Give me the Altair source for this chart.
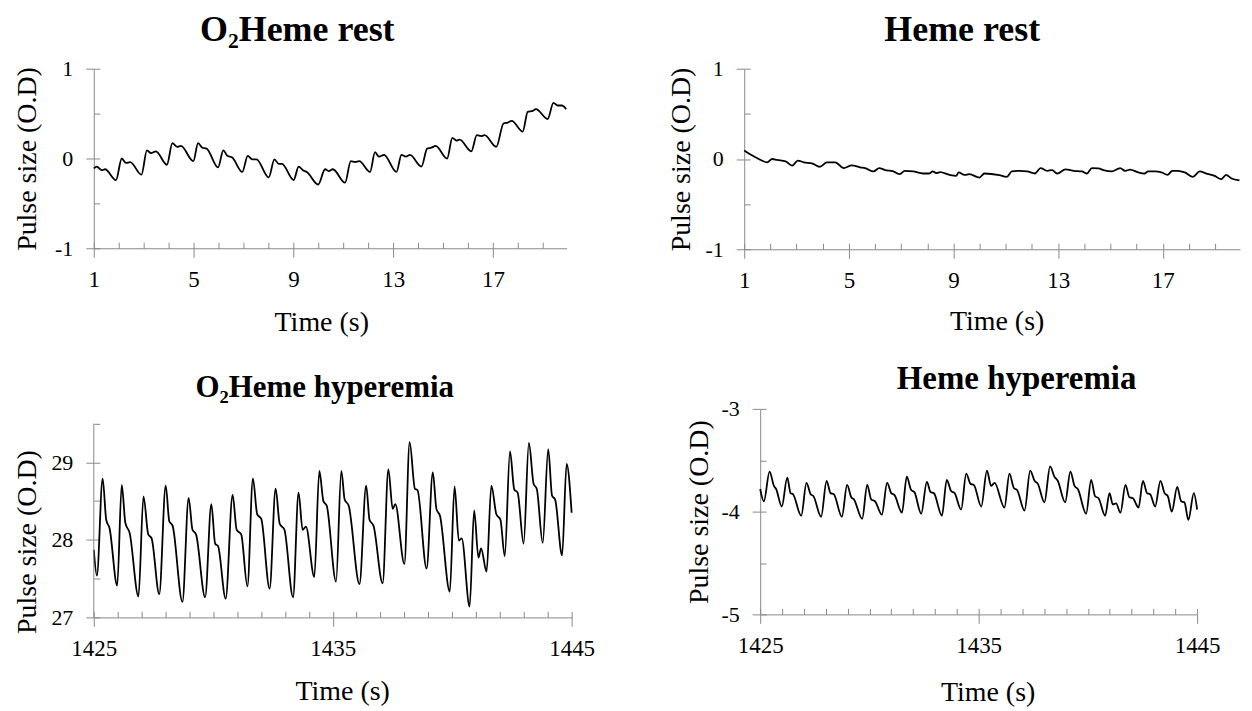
import altair as alt
import pandas as pd

FONT = "Liberation Serif"
GRAY = "#8a8a8a"

# ---------------- data ----------------
P1_T = [1.0, 1.12, 1.32, 1.45, 1.89, 2.12, 2.29, 2.46, 2.91, 3.13, 3.29, 3.49, 3.93, 4.15, 4.35, 4.49,
        4.99, 5.18, 5.35, 5.52, 5.98, 6.19, 6.35, 6.55, 6.95, 7.17, 7.35, 7.52, 8.01, 8.24, 8.41, 8.54,
        9.01, 9.21, 9.38, 9.54, 9.99, 10.27, 10.41, 10.58, 11.07, 11.30, 11.47, 11.64, 12.07, 12.27,
        12.43, 12.63, 13.13, 13.33, 13.51, 13.67, 14.13, 14.36, 14.53, 14.70, 15.16, 15.37, 15.53,
        15.66, 16.13, 16.35, 16.53, 16.66, 17.13, 17.42, 17.59, 17.75, 18.19, 18.39, 18.59, 18.72,
        19.19, 19.42, 19.59, 19.76, 19.93]
P1_V = [-0.11, -0.09, -0.13, -0.12, -0.24, 0.00, -0.05, -0.04, -0.18, 0.09, 0.06, 0.08, -0.07, 0.17,
        0.13, 0.14, -0.03, 0.17, 0.12, 0.11, -0.10, 0.09, 0.03, 0.01, -0.15, 0.03, -0.01, -0.01, -0.21,
        -0.01, -0.06, -0.06, -0.24, -0.09, -0.13, -0.15, -0.29, -0.12, -0.14, -0.12, -0.27, -0.03,
        -0.04, -0.03, -0.15, 0.07, 0.02, 0.04, -0.15, 0.04, 0.02, 0.04, -0.09, 0.11, 0.12, 0.14, 0.00,
        0.23, 0.20, 0.21, 0.08, 0.26, 0.25, 0.26, 0.13, 0.39, 0.40, 0.42, 0.30, 0.52, 0.53, 0.55, 0.44,
        0.62, 0.59, 0.59, 0.55]

P2_T = [1.00, 1.10, 1.38, 1.63, 1.88, 2.07, 2.26, 2.58, 2.83, 3.05, 3.28, 3.59, 3.89, 4.16, 4.48, 4.80,
        5.11, 5.43, 5.62, 5.94, 6.16, 6.38, 6.70, 6.95, 7.14, 7.46, 7.84, 8.06, 8.21, 8.34, 8.49, 8.85,
        9.10, 9.20, 9.42, 9.61, 9.99, 10.18, 10.75, 11.03, 11.23, 11.51, 11.82, 12.11, 12.33, 12.58,
        12.77, 12.96, 13.28, 13.60, 13.91, 14.10, 14.29, 14.54, 14.73, 15.05, 15.37, 15.56, 15.75,
        16.06, 16.29, 16.44, 16.70, 16.95, 17.18, 17.36, 17.58, 17.84, 18.15, 18.41, 18.66, 18.98,
        19.23, 19.42, 19.61, 19.93]
P2_V = [0.094, 0.075, 0.027, -0.011, -0.037, 0.000, -0.011, -0.026, -0.074, -0.018, -0.037, -0.048,
        -0.086, -0.037, -0.037, -0.101, -0.071, -0.093, -0.101, -0.138, -0.101, -0.123, -0.138, -0.168,
        -0.131, -0.138, -0.161, -0.161, -0.138, -0.157, -0.146, -0.176, -0.187, -0.149, -0.176, -0.168,
        -0.206, -0.161, -0.179, -0.198, -0.138, -0.131, -0.138, -0.161, -0.101, -0.131, -0.123, -0.161,
        -0.116, -0.131, -0.138, -0.161, -0.101, -0.104, -0.123, -0.138, -0.101, -0.131, -0.119, -0.149,
        -0.161, -0.138, -0.138, -0.149, -0.176, -0.131, -0.131, -0.149, -0.198, -0.138, -0.161, -0.187,
        -0.224, -0.176, -0.213, -0.236]

P3_T = [1425.00, 1425.13, 1425.37, 1425.52, 1425.66, 1425.98, 1426.17, 1426.32, 1426.50, 1426.87,
        1427.08, 1427.28, 1427.42, 1427.74, 1428.01, 1428.16, 1428.30, 1428.71, 1428.97, 1429.13,
        1429.28, 1429.66, 1429.92, 1430.08, 1430.20, 1430.52, 1430.81, 1430.98, 1431.17, 1431.43,
        1431.66, 1431.84, 1432.01, 1432.36, 1432.61, 1432.78, 1432.98, 1433.34, 1433.57, 1433.74,
        1433.88, 1434.23, 1434.44, 1434.61, 1434.75, 1435.14,
        1435.36, 1435.50, 1435.67, 1436.12, 1436.40, 1436.54, 1436.71, 1437.09, 1437.33, 1437.51,
        1437.62, 1438.00, 1438.22, 1438.44, 1438.55, 1438.93, 1439.19, 1439.34, 1439.49, 1439.90,
        1440.10, 1440.28, 1440.40, 1440.73, 1440.92, 1441.10, 1441.21, 1441.44, 1441.64, 1441.85,
        1442.02, 1442.20, 1442.42, 1442.60, 1442.74, 1442.99, 1443.21, 1443.41, 1443.54, 1443.79,
        1444.02, 1444.18, 1444.31, 1444.60, 1444.79, 1445.00]
P3_V = [27.87, 27.54, 28.79, 28.26, 28.15, 27.41, 28.71, 28.22, 28.09, 27.27, 28.56, 28.07, 28.02,
        27.30, 28.70, 28.24, 28.18, 27.20, 28.54, 28.13, 28.07, 27.26, 28.46, 27.95, 27.92, 27.24,
        28.58, 28.13, 28.07, 27.40, 28.79, 28.33, 28.27, 27.37, 28.66, 28.21, 28.13, 27.26, 28.61,
        28.13, 28.17, 27.52, 28.89, 28.50, 28.44, 27.46,
        28.89, 28.52, 28.44, 27.43, 28.70, 28.26, 28.18, 27.44, 28.91, 28.40, 28.46, 27.69, 29.26,
        28.66, 28.64, 27.63, 28.87, 28.40, 28.31, 27.33, 28.69, 27.99, 28.02, 27.14, 28.38, 27.77,
        27.89, 27.59, 28.70, 28.33, 28.26, 27.79, 29.14, 28.65, 28.61, 27.95, 29.25, 28.72, 28.66,
        27.96, 29.17, 28.57, 28.52, 27.80, 28.98, 28.35]

P4_T = [1425.00, 1425.17, 1425.43, 1425.63, 1425.73, 1425.99, 1426.24, 1426.39, 1426.50, 1426.88,
        1427.12, 1427.31, 1427.44, 1427.79, 1428.04, 1428.22, 1428.37, 1428.74, 1428.98, 1429.17,
        1429.29, 1429.67, 1429.90, 1430.08, 1430.26, 1430.57, 1430.81, 1431.00, 1431.15, 1431.49,
        1431.71, 1431.91, 1432.06, 1432.37, 1432.63, 1432.80, 1432.95, 1433.32, 1433.54, 1433.74,
        1433.90, 1434.20, 1434.43, 1434.63, 1434.78, 1435.12, 1435.38, 1435.57, 1435.73, 1436.18,
        1436.41, 1436.61, 1436.76, 1437.10, 1437.36, 1437.56, 1437.71, 1438.01, 1438.27, 1438.47,
        1438.62, 1438.96, 1439.20, 1439.39, 1439.54, 1439.92, 1440.15, 1440.33, 1440.49, 1440.79,
        1440.99, 1441.14, 1441.29, 1441.49, 1441.72, 1441.90, 1442.06, 1442.32, 1442.52, 1442.71,
        1442.85, 1443.08, 1443.32, 1443.51, 1443.66, 1443.84, 1444.09, 1444.27, 1444.42, 1444.60,
        1444.85, 1445.00]
P4_V = [-3.78, -3.90, -3.61, -3.75, -3.78, -3.95, -3.67, -3.82, -3.83, -4.04, -3.72, -3.83, -3.85,
        -4.05, -3.70, -3.82, -3.83, -4.05, -3.74, -3.86, -3.88, -4.07, -3.74, -3.88, -3.90, -4.03,
        -3.72, -3.82, -3.84, -4.01, -3.66, -3.79, -3.81, -4.02, -3.71, -3.81, -3.82, -4.04, -3.69,
        -3.80, -3.82, -3.98, -3.63, -3.73, -3.74, -3.95, -3.60, -3.75, -3.72, -3.96, -3.63, -3.77,
        -3.79, -3.99, -3.60, -3.70, -3.73, -3.91, -3.56, -3.66, -3.70, -3.91, -3.61, -3.75, -3.78,
        -4.02, -3.69, -3.85, -3.87, -4.04, -3.82, -3.93, -3.92, -4.01, -3.74, -3.86, -3.87, -3.96,
        -3.70, -3.82, -3.83, -3.95, -3.70, -3.82, -3.85, -4.00, -3.76, -3.90, -3.91, -4.08, -3.82,
        -3.98]

REST_X_MAJOR = [1, 5, 9, 13, 17]
REST_X_MINOR = list(range(1, 20))
HYP_X_MAJOR = [1425, 1435, 1445]
HYP_X_MINOR = list(range(1425, 1446))

REST_Y_MAJOR = [-1, 0, 1]
REST_Y_MINOR = [-1, -0.5, 0, 0.5, 1]
P3_Y_MAJOR = [27, 28, 29]
P3_Y_MINOR = [27, 27.5, 28, 28.5, 29, 29.5]
P3_Y_AXIS_TOP = 29.5
P4_Y_MAJOR = [-5, -4, -3]
P4_Y_MINOR = [-5, -4.5, -4, -3.5, -3]

Y_TITLE = "Pulse size (O.D)"
X_TITLE = "Time (s)"


def panel(t, v, xdom, ydom, x_major, x_minor, y_major, y_minor, width, height,
          title, title_size, title_dx, title_offset,
          ytitle_x, xtitle_x, xtitle_y, ytitle_y=None, axis_top=None):
    df = pd.DataFrame({"t": t, "v": v})
    xs = alt.Scale(domain=xdom, nice=False, zero=False)
    ys = alt.Scale(domain=ydom, nice=False, zero=False)

    yk = {}
    if ytitle_y is not None:
        yk["titleY"] = ytitle_y
    ax_y = alt.Axis(orient="left", values=y_major, labelExpr="'' + datum.value",
                    tickSize=8, tickColor=GRAY, domain=axis_top is None, domainColor=GRAY,
                    labelPadding=13, labelFont=FONT, labelFontSize=22, labelColor="black",
                    labelFlush=False, labelOverlap=False,
                    title=Y_TITLE, titleFont=FONT, titleFontSize=28, titleFontWeight="normal",
                    titleColor="black", titleX=ytitle_x, grid=False, **yk)
    ax_x = alt.Axis(orient="bottom", values=x_major, labelExpr="'' + datum.value",
                    tickSize=9, tickColor=GRAY, domainColor=GRAY,
                    labelPadding=11, labelFont=FONT, labelFontSize=23, labelColor="black",
                    labelFlush=False, labelOverlap=False,
                    title=X_TITLE, titleFont=FONT, titleFontSize=28, titleFontWeight="normal",
                    titleColor="black", titleX=xtitle_x, titleY=xtitle_y, grid=False)
    ax_y_minor = alt.Axis(orient="left", values=y_minor, tickSize=6, offset=-6, tickColor=GRAY,
                          domain=False, labels=False, title=None, grid=False)
    ax_x_minor = alt.Axis(orient="bottom", values=x_minor, tickSize=6, offset=-6, tickColor=GRAY,
                          domain=False, labels=False, title=None, grid=False)

    base = alt.Chart(df)
    line = base.mark_line(color="black", strokeWidth=1.8, interpolate="monotone").encode(
        x=alt.X("t:Q", scale=xs, axis=ax_x),
        y=alt.Y("v:Q", scale=ys, axis=ax_y),
    )
    ghost = base.mark_line(strokeOpacity=0).encode(
        x=alt.X("t:Q", scale=xs, axis=ax_x_minor),
        y=alt.Y("v:Q", scale=ys, axis=ax_y_minor),
    )
    layers = [line, ghost]
    if axis_top is not None:
        adf = pd.DataFrame({"t": [xdom[0]], "v": [ydom[0]], "v2": [axis_top]})
        rule = alt.Chart(adf).mark_rule(color=GRAY, strokeWidth=1).encode(
            x=alt.X("t:Q", scale=xs, axis=None),
            y=alt.Y("v:Q", scale=ys, axis=None),
            y2="v2:Q",
        )
        layers.append(rule)
    return alt.layer(*layers).resolve_axis(x="independent", y="independent").properties(
        width=width, height=height,
        title=alt.TitleParams(text=title, font=FONT, fontSize=title_size, fontWeight="bold",
                              color="black", anchor="middle", frame="group", baseline="bottom",
                              dx=title_dx, offset=title_offset),
    )


p1 = panel(P1_T, P1_V, [1, 19.95], [-1, 1], REST_X_MAJOR, REST_X_MINOR, REST_Y_MAJOR, REST_Y_MINOR,
           474, 180, "O₂Heme rest", 36, -33, -27, ytitle_x=-52, xtitle_x=228, xtitle_y=60)
p2 = panel(P2_T, P2_V, [1, 19.95], [-1, 1], REST_X_MAJOR, REST_X_MINOR, REST_Y_MAJOR, REST_Y_MINOR,
           497, 181, "Heme rest", 36, -30, -27, ytitle_x=-49, xtitle_x=253, xtitle_y=58)
p3 = panel(P3_T, P3_V, [1425, 1445], [27, 29.69], HYP_X_MAJOR, HYP_X_MINOR, P3_Y_MAJOR, P3_Y_MINOR,
           479, 209, "O₂Heme hyperemia", 31, -8, -26, ytitle_x=-52, xtitle_x=249, xtitle_y=60,
           ytitle_y=133, axis_top=P3_Y_AXIS_TOP)
p4 = panel(P4_T, P4_V, [1425, 1445], [-5, -3], HYP_X_MAJOR, HYP_X_MINOR, P4_Y_MAJOR, P4_Y_MINOR,
           438, 206, "Heme hyperemia", 33, 38, -31, ytitle_x=-47, xtitle_x=228, xtitle_y=64)

row1 = alt.hconcat(p1, p2, spacing=178, bounds="flush")
row2 = alt.hconcat(p3, p4, spacing=189, bounds="flush")

chart = alt.vconcat(row1, row2, spacing=27).properties(
    padding={"left": 5, "top": 3, "right": 0, "bottom": 0}
).configure_view(stroke=None)

chart.save("out.html", embed_options={"renderer": "svg", "actions": False})
